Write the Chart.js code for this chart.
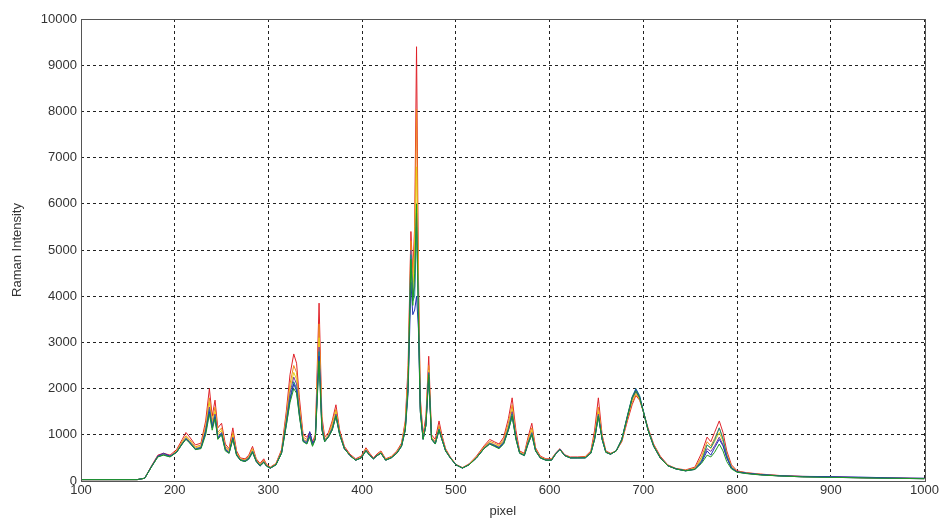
<!DOCTYPE html>
<html>
<head>
<meta charset="utf-8">
<script src="https://cdn.jsdelivr.net/npm/chart.js@4.4.1/dist/chart.umd.min.js"></script>
<style>
  html, body { margin: 0; padding: 0; background: #fff; }
  #wrap { width: 941px; height: 521px; }
</style>
</head>
<body>
<div id="wrap"><canvas id="spec" width="941" height="521"></canvas></div>
<script>
// pixel positions (x) shared by every spectrum
const pixels = [
  100,160,168,175,182,188,195,202,208,212,
  216,222,228,233,237,240,243,246,250,254,
  258,262,266,270,275,279,283,287,291,295,
  298,302,308,314,319,323,327,330,333,337,
  341,344,347,350,354,357,360,364,368,372,
  376,381,387,393,399,404,408,412,416,420,
  425,431,437,442,446,449,452,454,456,458,
  460,462,465,468,471,474,478,482,485,489,
  494,500,507,514,522,530,536,541,546,551,
  556,560,564,568,573,577,581,585,590,596,
  602,607,611,616,622,630,638,644,648,652,
  656,660,665,671,677,683,688,692,696,700,
  705,711,718,726,735,745,755,762,768,772,
  776,781,785,789,794,800,810,825,845,870,
  900,930,960,1000
];

const greenSpec = [
  30,30,60,300,520,560,520,620,800,900,
  820,680,700,1000,1450,1100,1350,900,1000,650,
  600,900,550,450,420,480,620,420,330,400,
  320,280,350,600,1200,1700,2000,1900,1400,850,
  800,950,750,900,2600,1100,850,950,1100,1400,
  1000,700,550,450,500,650,550,480,550,600,
  450,500,600,750,1100,2000,4800,3800,4500,6000,
  3500,1500,900,1200,2300,900,800,1100,900,650,
  500,350,280,350,500,700,800,750,700,800,
  1100,1400,900,600,550,800,1000,650,500,450,
  450,600,680,550,500,500,500,600,900,1400,
  900,620,580,650,900,1400,1800,1950,1800,1500,
  1100,750,500,330,260,220,250,380,560,520,
  620,800,650,420,260,190,160,130,110,90,
  80,70,60,50
];

const blueSpec = [
  30,30,60,310,540,600,540,620,800,920,
  830,680,710,1050,1500,1150,1380,920,1020,680,
  600,920,560,450,420,470,620,420,320,400,
  320,275,350,600,1200,1750,2100,1950,1420,860,
  810,1070,820,900,2700,1120,850,950,1100,1400,
  1000,700,550,450,500,650,560,480,550,600,
  450,500,600,750,1100,1900,4300,3600,3700,4000,
  3300,1500,900,1200,2250,900,800,1100,900,650,
  500,350,280,350,500,700,800,760,710,820,
  1100,1400,920,600,550,800,1000,650,500,450,
  450,600,690,550,500,500,500,600,900,1400,
  900,620,580,650,900,1400,1800,1980,1820,1500,
  1100,750,500,330,260,220,250,400,650,560,
  720,900,760,500,280,200,170,140,115,100,
  95,85,70,60
];

const cyanSpec = [
  30,30,60,300,525,565,525,625,810,910,
  840,690,720,1080,1550,1180,1420,930,1030,680,
  610,930,570,455,430,490,640,430,335,410,
  325,280,352,610,1250,1800,2150,2000,1450,870,
  820,980,770,910,2800,1150,860,960,1120,1420,
  1010,702,551,451,502,660,560,481,552,605,
  452,502,605,760,1120,2050,4900,3900,4000,5500,
  3600,1550,910,1210,2330,910,810,1120,910,655,
  501,350,280,351,502,705,810,770,720,830,
  1120,1450,930,605,555,820,1030,660,502,452,
  452,601,681,551,501,501,502,605,910,1420,
  905,622,581,652,905,1420,1820,2000,1850,1520,
  1110,760,505,332,261,222,255,420,780,720,
  880,1150,900,550,290,195,165,135,110,90,
  80,70,60,50
];

const purpleSpec = [
  30,30,60,300,530,570,530,630,820,920,
  850,700,730,1100,1600,1200,1450,950,1050,700,
  620,950,580,460,440,500,650,440,340,420,
  330,282,355,620,1300,1900,2250,2100,1500,880,
  850,1050,800,920,2900,1200,870,970,1150,1450,
  1020,705,552,452,505,670,565,482,555,610,
  455,505,610,770,1150,2100,5000,4000,4200,5800,
  3800,1600,920,1220,2350,920,820,1130,920,660,
  502,351,281,352,505,710,820,780,730,850,
  1150,1500,950,610,560,840,1050,670,505,455,
  455,602,682,552,502,502,505,610,930,1450,
  915,625,582,650,890,1390,1780,1930,1800,1500,
  1105,760,505,332,261,222,260,440,700,640,
  760,950,780,510,285,195,165,135,110,90,
  80,70,60,50
];

const yellowSpec = [
  30,30,60,305,530,570,530,640,840,950,
  870,720,750,1150,1700,1250,1500,1000,1100,720,
  640,1000,600,470,450,510,680,450,350,430,
  335,285,360,630,1350,2000,2350,2200,1550,900,
  870,980,780,940,3100,1250,880,980,1200,1500,
  1030,710,555,455,510,680,570,485,560,620,
  460,510,620,780,1200,2200,5000,4100,5000,6800,
  4000,1650,930,1250,2400,930,830,1150,930,670,
  505,352,282,355,510,720,830,790,750,870,
  1200,1550,970,620,570,860,1100,680,510,460,
  460,605,685,555,505,505,510,620,960,1500,
  930,630,585,650,880,1370,1750,1900,1780,1500,
  1110,770,510,335,262,225,270,480,780,700,
  850,1050,850,540,300,200,170,140,112,92,
  82,71,61,51
];

const orangeSpec = [
  30,30,60,310,540,580,540,650,860,980,
  900,740,780,1200,1800,1300,1600,1050,1150,750,
  660,1050,620,480,460,530,700,460,360,450,
  340,290,370,650,1400,2100,2500,2350,1650,950,
  900,1000,800,960,3400,1300,900,1000,1250,1550,
  1050,720,560,460,520,690,580,490,570,630,
  470,520,630,800,1250,2300,5200,4300,5200,8050,
  4200,1700,950,1300,2500,950,850,1200,950,680,
  510,355,285,360,520,740,860,820,770,900,
  1250,1650,1000,630,580,900,1150,700,520,470,
  470,610,690,560,510,510,520,630,1000,1600,
  950,640,590,650,870,1350,1700,1880,1770,1500,
  1120,780,520,340,265,230,280,520,850,760,
  920,1150,930,580,320,210,175,145,115,95,
  85,72,62,52
];

const redSpec = [
  30,30,60,320,560,600,560,680,900,1050,
  950,780,820,1300,2000,1400,1750,1150,1250,800,
  700,1150,650,500,480,560,750,480,380,480,
  360,300,380,680,1500,2300,2750,2550,1800,1000,
  950,1050,850,1000,3850,1400,950,1050,1300,1650,
  1100,750,580,480,540,720,600,500,590,650,
  480,530,650,820,1300,2500,5400,4500,5500,9400,
  4500,1800,1000,1400,2700,1000,900,1300,1000,700,
  520,360,290,370,540,760,900,850,800,950,
  1350,1800,1100,650,600,950,1250,720,540,480,
  480,620,700,570,520,520,530,650,1100,1800,
  1000,650,600,650,850,1300,1650,1850,1750,1500,
  1150,800,540,350,270,240,300,600,950,850,
  1050,1300,1050,650,350,220,180,150,120,100,
  90,75,65,55
];

// dataset 0 is painted on top
const series = [
  { values: greenSpec,  color: "#1f9a24" },
  { values: blueSpec,   color: "#2331b8" },
  { values: cyanSpec,   color: "#15888f" },
  { values: purpleSpec, color: "#7b3a9c" },
  { values: yellowSpec, color: "#e3d21c" },
  { values: orangeSpec, color: "#ee8a1e" },
  { values: redSpec,    color: "#e0232a" }
];

const xTicks = [100, 200, 300, 400, 500, 600, 700, 800, 900, 1000];
const yTicks = [0, 1000, 2000, 3000, 4000, 5000, 6000, 7000, 8000, 9000, 10000];

const FONT = "'Liberation Sans', Arial, Helvetica, sans-serif";

// solid frame round the plot, like the original figure
const frameBox = {
  id: "frameBox",
  afterDatasetsDraw(chart) {
    const a = chart.chartArea;
    const ctx = chart.ctx;
    ctx.save();
    ctx.strokeStyle = "#555";
    ctx.lineWidth = 1;
    ctx.strokeRect(Math.round(a.left) + 0.5, Math.round(a.top) + 0.5,
      Math.round(a.right - a.left), Math.round(a.bottom - a.top));
    ctx.restore();
  }
};

new Chart(document.getElementById("spec"), {
  type: "line",
  data: {
    datasets: series.map(s => ({
      data: pixels.map((p, i) => ({ x: p, y: s.values[i] })),
      borderColor: s.color,
      borderWidth: 1,
      pointRadius: 0,
      tension: 0,
      fill: false
    }))
  },
  options: {
    responsive: false,
    animation: false,
    layout: { padding: { top: 19, right: 16, left: 0, bottom: 0 } },
    plugins: {
      legend: { display: false },
      tooltip: { enabled: false }
    },
    scales: {
      x: {
        type: "linear",
        min: 100,
        max: 1000,
        afterBuildTicks: axis => { axis.ticks = xTicks.map(v => ({ value: v })); },
        afterFit: axis => { axis.height = 40; },
        ticks: {
          color: "#333",
          font: { family: FONT, size: 13 },
          padding: 2,
          maxRotation: 0,
          callback: v => String(v)
        },
        grid: { color: "#222", lineWidth: 1, drawTicks: false },
        border: { display: false, dash: [3, 3] },
        title: {
          display: true,
          text: "pixel",
          color: "#333",
          font: { family: FONT, size: 13 },
          padding: { top: 0, bottom: 2 }
        }
      },
      y: {
        min: 0,
        max: 10000,
        afterBuildTicks: axis => { axis.ticks = yTicks.map(v => ({ value: v })); },
        afterFit: axis => { axis.width = 81; },
        ticks: {
          color: "#333",
          font: { family: FONT, size: 13 },
          padding: 4,
          callback: v => String(v)
        },
        grid: { color: "#222", lineWidth: 1, drawTicks: false },
        border: { display: false, dash: [3, 3] },
        title: {
          display: true,
          text: "Raman Intensity",
          color: "#333",
          font: { family: FONT, size: 13 },
          padding: { top: 10, bottom: 4 }
        }
      }
    }
  },
  plugins: [frameBox]
});
</script>
</body>
</html>
